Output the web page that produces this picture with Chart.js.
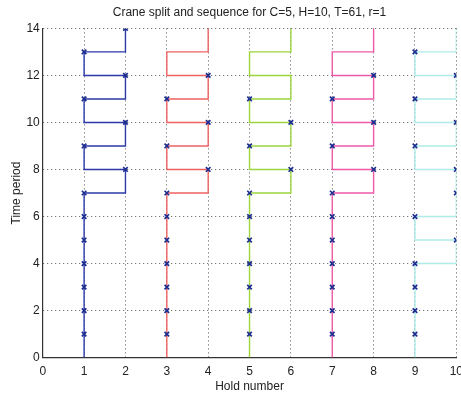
<!DOCTYPE html>
<html>
<head>
<meta charset="utf-8">
<script src="https://cdn.jsdelivr.net/npm/chart.js@4/dist/chart.umd.min.js"></script>
<style>
  html, body { margin: 0; padding: 0; background: #fff; overflow: hidden; }
  #wrap { width: 471px; height: 396px; }
</style>
</head>
<body>
<div id="wrap"><canvas id="myChart"></canvas></div>
<script>
// time periods 1..14, hold occupied by each crane in that period
const periods = [1, 2, 3, 4, 5, 6, 7, 8, 9, 10, 11, 12, 13, 14];
const crane1Hold = [1, 1, 1, 1, 1, 1, 1, 2, 1, 2, 1, 2, 1, 2];
const crane2Hold = [3, 3, 3, 3, 3, 3, 3, 4, 3, 4, 3, 4, 3, 4];
const crane3Hold = [5, 5, 5, 5, 5, 5, 5, 6, 5, 6, 5, 6, 5, 6];
const crane4Hold = [7, 7, 7, 7, 7, 7, 7, 8, 7, 8, 7, 8, 7, 8];
const crane5Hold = [9, 9, 9, 9, 10, 9, 10, 10, 9, 10, 9, 10, 9, 10];
// number of periods (from the start) in which each crane handles a job (marked x)
const craneJobs = [14, 12, 11, 12, 13];

const xTicks = [0, 1, 2, 3, 4, 5, 6, 7, 8, 9, 10];
const yTicks = [0, 2, 4, 6, 8, 10, 12, 14];

const CRANE_COLORS = ['#2b3aa8', '#f06262', '#9bd63c', '#ee5aa8', '#aeece8'];
const MARKER_COLOR = '#1d2d90';

const holds = [crane1Hold, crane2Hold, crane3Hold, crane4Hold, crane5Hold];

let datasets = [];
holds.forEach((h, i) => {
  // step path: start at period 0 on the first hold, then one point per period
  let path = [{x: h[0], y: 0}];
  periods.forEach((t, k) => path.push({x: h[k], y: t}));
  datasets.push({
    type: 'line',
    data: path,
    borderColor: CRANE_COLORS[i],
    borderWidth: 1.4,
    stepped: 'before',
    pointRadius: 0,
    fill: false,
    order: 2,
  });
  // job markers
  let marks = [];
  for (let k = 0; k < craneJobs[i]; k++) marks.push({x: h[k], y: periods[k]});
  datasets.push({
    type: 'scatter',
    data: marks,
    pointStyle: 'crossRot',
    pointRadius: 3.2,
    borderColor: MARKER_COLOR,
    backgroundColor: MARKER_COLOR,
    pointBorderWidth: 1.7,
    showLine: false,
    order: 1,
  });
});

const FONT = "'Liberation Sans', Arial, sans-serif";

var ctx = document.getElementById('myChart').getContext('2d');
new Chart(ctx, {
  type: 'scatter',
  data: {datasets: datasets},
  options: {
    responsive: true,
    maintainAspectRatio: false,
    animation: false,
    layout: {padding: {left: 9, right: 0, top: 0, bottom: 0}},
    scales: {
      x: {
        type: 'linear',
        min: 0,
        max: 10,
        afterBuildTicks: (axis) => { axis.ticks = xTicks.map(v => ({value: v})); },
        grid: {color: '#555', lineWidth: 1, drawTicks: false},
        border: {display: true, color: '#333', width: 1.2, dash: [1, 3]},
        ticks: {color: '#222', font: {family: FONT, size: 12, lineHeight: 1}, padding: 8},
        title: {display: true, text: 'Hold number', color: '#222', font: {family: FONT, size: 12}, padding: {top: -6, bottom: 2}},
      },
      y: {
        type: 'linear',
        min: 0,
        max: 14,
        afterBuildTicks: (axis) => { axis.ticks = yTicks.map(v => ({value: v})); },
        grid: {color: '#555', lineWidth: 1, drawTicks: false},
        border: {display: true, color: '#333', width: 1.2, dash: [1, 3]},
        ticks: {color: '#222', font: {family: FONT, size: 12}, padding: 3},
        title: {display: true, text: 'Time period', color: '#222', font: {family: FONT, size: 12}, padding: {top: 0, bottom: 0}},
      },
    },
    plugins: {
      title: {
        display: true,
        fullSize: false,
        text: 'Crane split and sequence for C=5, H=10, T=61, r=1',
        color: '#222',
        font: {family: FONT, size: 12, weight: 'normal'},
        padding: {top: 5, bottom: 9},
      },
      legend: {display: false},
      tooltip: {enabled: false},
    },
  },
});
</script>
</body>
</html>
